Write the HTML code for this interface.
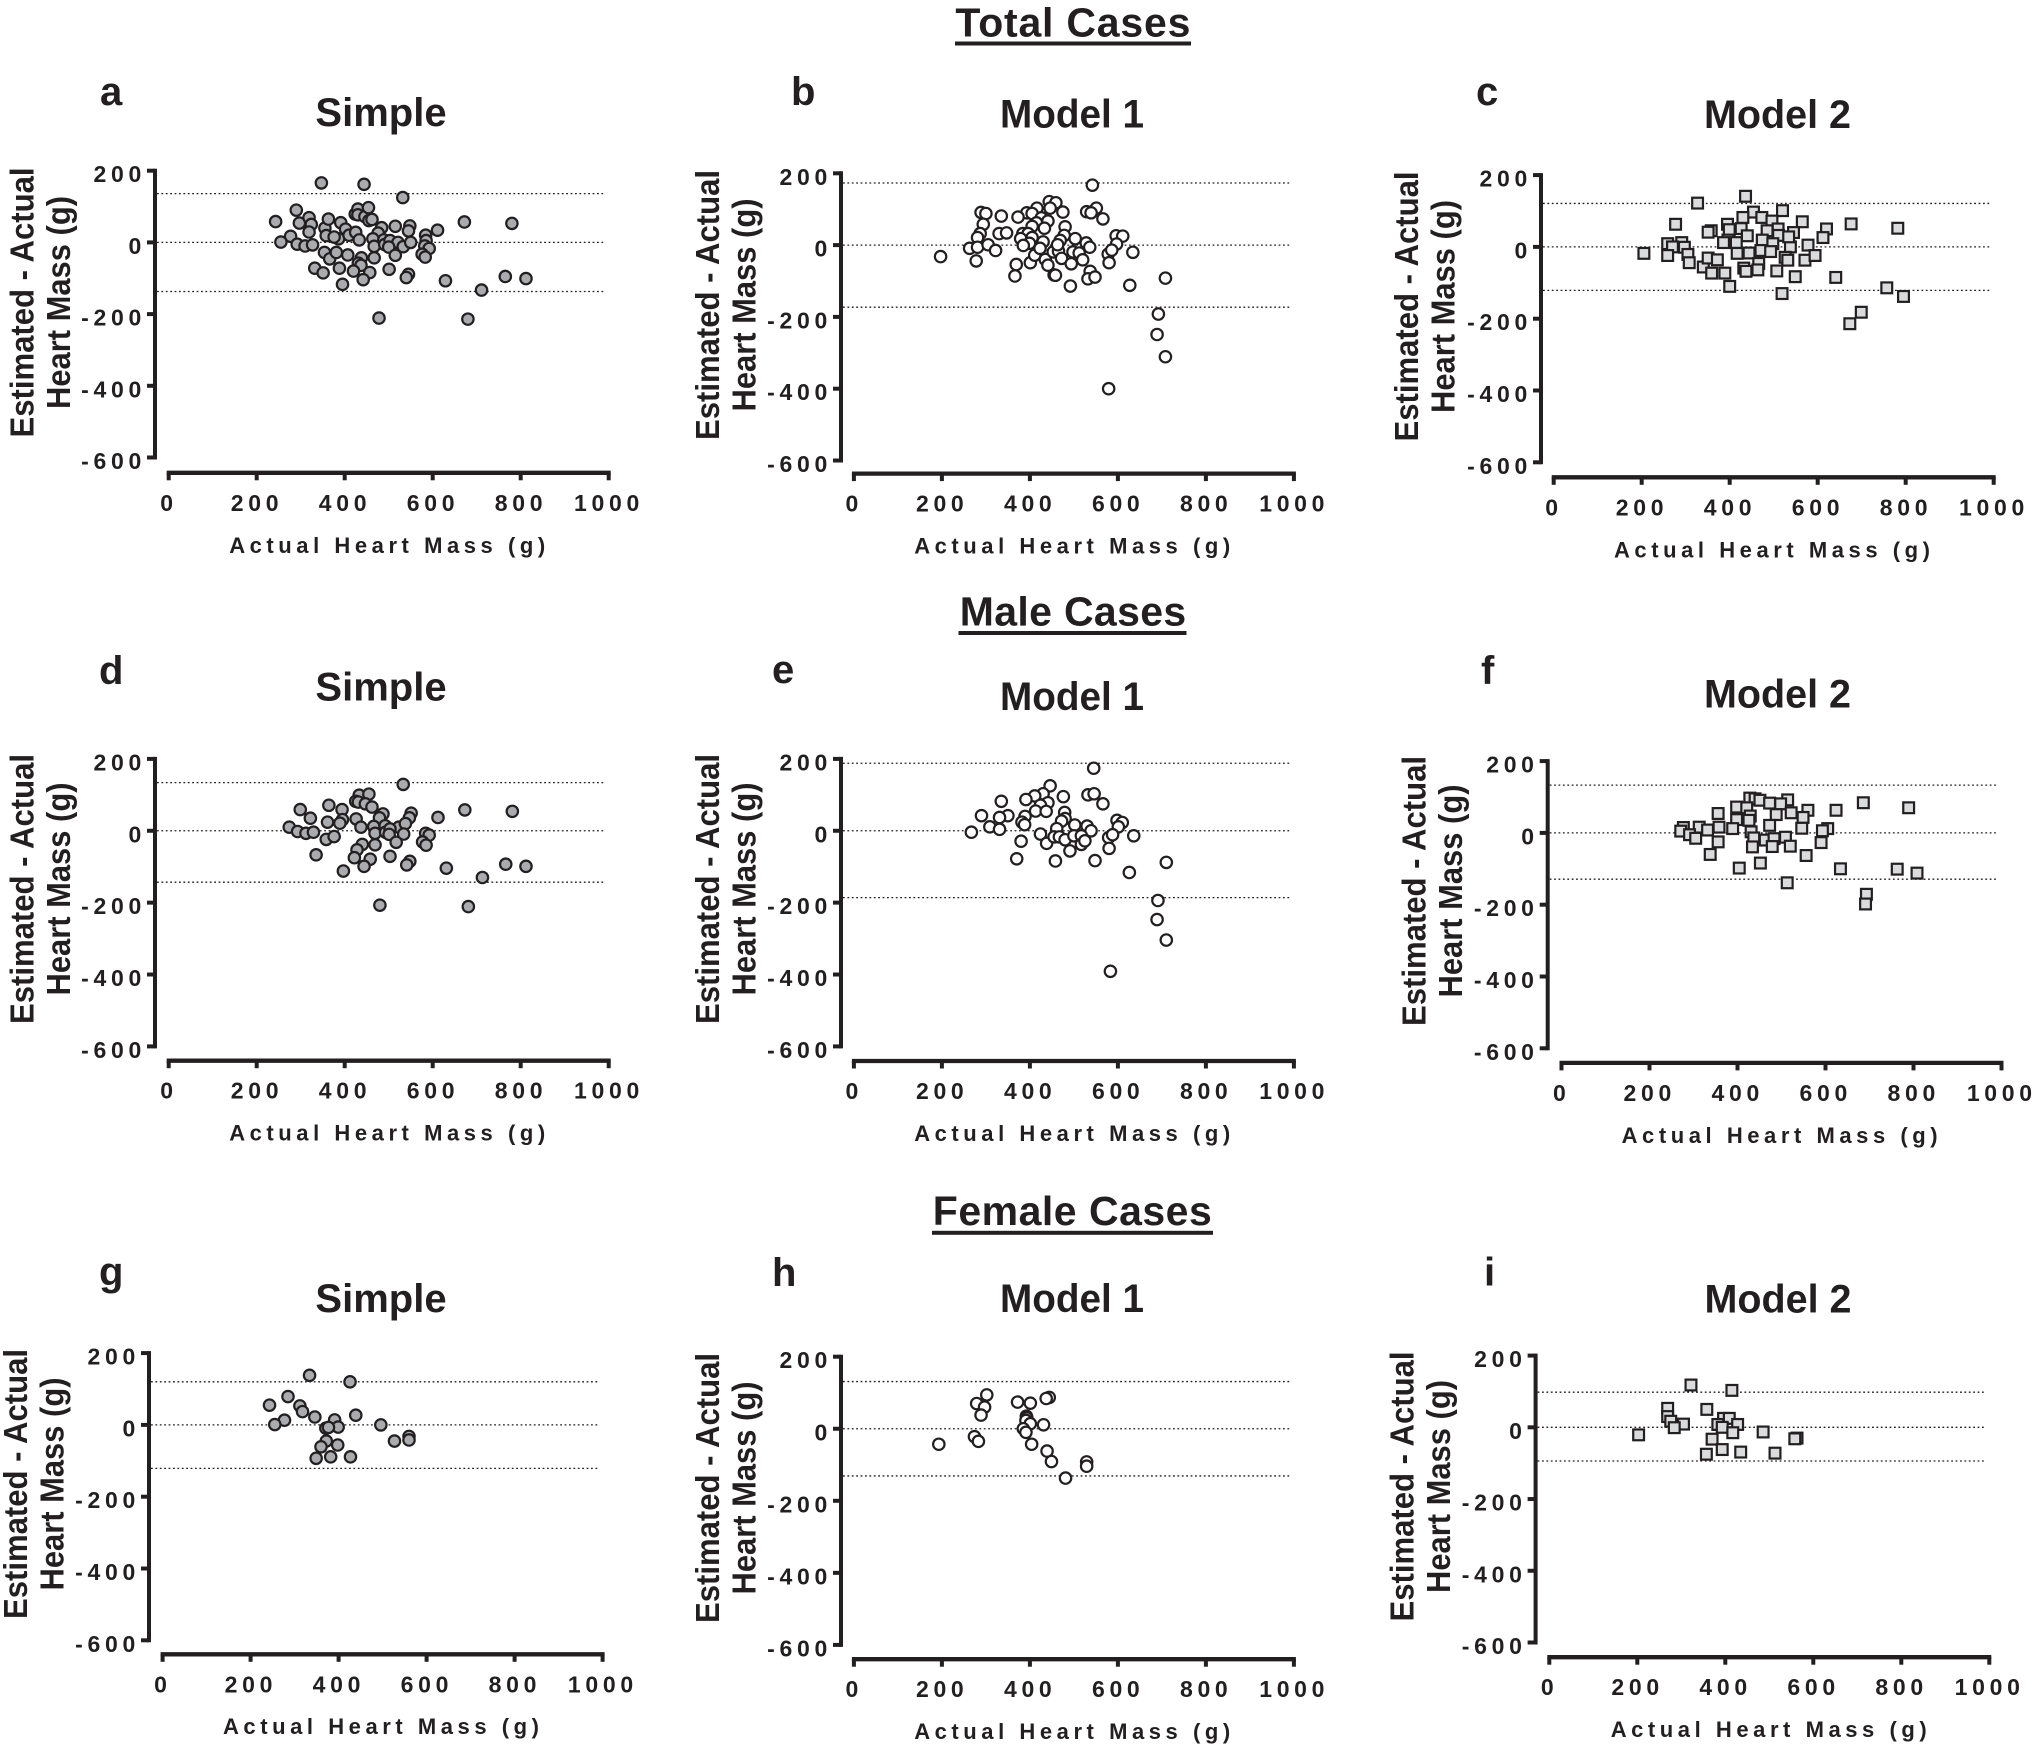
<!DOCTYPE html>
<html lang="en">
<head>
<meta charset="utf-8">
<title>Estimated minus actual heart mass: Total, Male and Female Cases</title>
<style>
html,body{margin:0;padding:0;background:#fff;width:2032px;height:1745px;overflow:hidden}
svg{display:block}
text{font-family:"Liberation Sans",Arial,sans-serif;font-weight:700;fill:#231f20}
.section{font-size:41px}
.letter{font-size:40px}
.ptitle{font-size:40px;text-anchor:middle}
.ytitle{font-size:33px;text-anchor:middle}
.xtitle{font-size:22px;text-anchor:middle}
.tick{font-size:23px;letter-spacing:4.7px}
</style>
</head>
<body>
<svg id="figure" xmlns="http://www.w3.org/2000/svg" width="2032" height="1745" viewBox="0 0 2032 1745">
<rect width="2032" height="1745" fill="#fff"/>

<text class="section" x="955.4" y="36.4" textLength="235">Total Cases</text>
<rect x="955" y="41.5" width="236" height="4" fill="#231f20"/>
<text class="section" x="959.7" y="625.7" textLength="226.5">Male Cases</text>
<rect x="958.5" y="631" width="228" height="4" fill="#231f20"/>
<text class="section" x="932.8" y="1225" textLength="279">Female Cases</text>
<rect x="932" y="1230.8" width="281" height="4" fill="#231f20"/>

<text class="letter" x="100" y="105">a</text>
<text class="letter" x="791" y="105">b</text>
<text class="letter" x="1476" y="105">c</text>
<text class="letter" x="99" y="684">d</text>
<text class="letter" x="772" y="683">e</text>
<text class="letter" x="1481" y="684">f</text>
<text class="letter" x="99" y="1285">g</text>
<text class="letter" x="772" y="1286">h</text>
<text class="letter" x="1484" y="1285.5">i</text>

<text class="ptitle" x="381" y="126">Simple</text>
<text class="ptitle" x="1072" y="127.5" textLength="144" lengthAdjust="spacingAndGlyphs">Model 1</text>
<text class="ptitle" x="1777.5" y="128" textLength="147" lengthAdjust="spacingAndGlyphs">Model 2</text>
<text class="ptitle" x="381" y="700.5">Simple</text>
<text class="ptitle" x="1072" y="710" textLength="144" lengthAdjust="spacingAndGlyphs">Model 1</text>
<text class="ptitle" x="1777.5" y="707.5" textLength="147" lengthAdjust="spacingAndGlyphs">Model 2</text>
<text class="ptitle" x="381" y="1312">Simple</text>
<text class="ptitle" x="1072" y="1312" textLength="144" lengthAdjust="spacingAndGlyphs">Model 1</text>
<text class="ptitle" x="1778" y="1312.5" textLength="147" lengthAdjust="spacingAndGlyphs">Model 2</text>

<text class="ytitle" transform="rotate(-90 33.5 302.5)" x="33.5" y="302.5" textLength="270" lengthAdjust="spacingAndGlyphs">Estimated - Actual</text>
<text class="ytitle" transform="rotate(-90 70 302.5)" x="70" y="302.5" textLength="213" lengthAdjust="spacingAndGlyphs">Heart Mass (g)</text>
<text class="ytitle" transform="rotate(-90 719 305)" x="719" y="305" textLength="270" lengthAdjust="spacingAndGlyphs">Estimated - Actual</text>
<text class="ytitle" transform="rotate(-90 755.5 305)" x="755.5" y="305" textLength="213" lengthAdjust="spacingAndGlyphs">Heart Mass (g)</text>
<text class="ytitle" transform="rotate(-90 1418 306.5)" x="1418" y="306.5" textLength="270" lengthAdjust="spacingAndGlyphs">Estimated - Actual</text>
<text class="ytitle" transform="rotate(-90 1454.5 306.5)" x="1454.5" y="306.5" textLength="213" lengthAdjust="spacingAndGlyphs">Heart Mass (g)</text>
<text class="ytitle" transform="rotate(-90 33.5 889)" x="33.5" y="889" textLength="270" lengthAdjust="spacingAndGlyphs">Estimated - Actual</text>
<text class="ytitle" transform="rotate(-90 70 889)" x="70" y="889" textLength="213" lengthAdjust="spacingAndGlyphs">Heart Mass (g)</text>
<text class="ytitle" transform="rotate(-90 719 889)" x="719" y="889" textLength="270" lengthAdjust="spacingAndGlyphs">Estimated - Actual</text>
<text class="ytitle" transform="rotate(-90 755.5 889)" x="755.5" y="889" textLength="213" lengthAdjust="spacingAndGlyphs">Heart Mass (g)</text>
<text class="ytitle" transform="rotate(-90 1425.5 891)" x="1425.5" y="891" textLength="270" lengthAdjust="spacingAndGlyphs">Estimated - Actual</text>
<text class="ytitle" transform="rotate(-90 1462 891)" x="1462" y="891" textLength="213" lengthAdjust="spacingAndGlyphs">Heart Mass (g)</text>
<text class="ytitle" transform="rotate(-90 27 1484)" x="27" y="1484" textLength="270" lengthAdjust="spacingAndGlyphs">Estimated - Actual</text>
<text class="ytitle" transform="rotate(-90 63.5 1484)" x="63.5" y="1484" textLength="213" lengthAdjust="spacingAndGlyphs">Heart Mass (g)</text>
<text class="ytitle" transform="rotate(-90 719 1488)" x="719" y="1488" textLength="270" lengthAdjust="spacingAndGlyphs">Estimated - Actual</text>
<text class="ytitle" transform="rotate(-90 755.5 1488)" x="755.5" y="1488" textLength="213" lengthAdjust="spacingAndGlyphs">Heart Mass (g)</text>
<text class="ytitle" transform="rotate(-90 1413.5 1486.5)" x="1413.5" y="1486.5" textLength="270" lengthAdjust="spacingAndGlyphs">Estimated - Actual</text>
<text class="ytitle" transform="rotate(-90 1450 1486.5)" x="1450" y="1486.5" textLength="213" lengthAdjust="spacingAndGlyphs">Heart Mass (g)</text>

<text class="xtitle" x="387.2" y="552.8" textLength="316">Actual Heart Mass (g)</text>
<text class="xtitle" x="1072.2" y="553.6" textLength="316">Actual Heart Mass (g)</text>
<text class="xtitle" x="1772" y="557.3" textLength="316">Actual Heart Mass (g)</text>
<text class="xtitle" x="387.2" y="1140.7" textLength="316">Actual Heart Mass (g)</text>
<text class="xtitle" x="1072.2" y="1141" textLength="316">Actual Heart Mass (g)</text>
<text class="xtitle" x="1779.6" y="1142.9" textLength="316">Actual Heart Mass (g)</text>
<text class="xtitle" x="381" y="1734" textLength="316">Actual Heart Mass (g)</text>
<text class="xtitle" x="1072.2" y="1739" textLength="316">Actual Heart Mass (g)</text>
<text class="xtitle" x="1768.7" y="1736.8" textLength="316">Actual Heart Mass (g)</text>
</svg>

<script>
const xTickValues = [0, 200, 400, 600, 800, 1000];
const yTickValues = [200, 0, -200, -400, -600];

const aActual = [347,444,532,243,290,297,319,324,319,277,255,292,310,327,355,363,358,391,402,386,376,410,425,433,424,430,430,446,454,455,462,484,476,464,489,467,491,515,503,521,533,500,515,548,545,550,584,585,582,592,576,583,611,672,780,629,765,812,711,680,478,354,366,381,407,438,467,431,437,388,332,351,420,457,442,501,545,540,395];
const aDiff = [166,162,125,58,90,54,69,50,29,17,1,-5,-10,-7,40,65,19,55,37,10,15,20,28,7,79,93,77,72,97,61,64,41,26,10,7,-11,-6,45,5,0,-12,-13,-36,46,32,0,20,5,-10,-17,-33,-41,34,57,53,-107,-95,-101,-133,-214,-211,-28,-46,-28,-35,-43,-43,-58,-64,-72,-72,-85,-80,-84,-104,-75,-89,-98,-117];
const aLimits = [136, 0, -137];

const bActual = [542,551,529,539,566,444,459,416,446,475,393,405,289,300,335,373,426,441,415,294,433,480,405,287,281,330,347,384,396,379,405,478,503,469,430,399,385,528,596,611,597,263,281,305,322,197,278,369,366,401,411,423,435,441,455,458,453,465,463,472,494,498,512,520,536,537,532,548,492,578,586,580,634,627,708,692,689,708,579];
const bDiff = [167,103,93,90,73,121,118,103,103,92,90,88,91,88,81,78,76,67,62,58,47,51,52,32,21,32,34,32,32,18,21,27,18,13,9,5,-1,6,26,25,3,-9,-6,1,-15,-32,-44,-54,-86,-49,-28,-9,-40,-56,-83,-84,-19,-17,1,-37,-52,-19,-22,-41,-6,-73,-94,-89,-114,-25,-14,-49,-20,-112,-92,-192,-249,-311,-400];
const bLimits = [173, 0, -173];

const cActual = [436,327,520,454,430,473,496,395,277,565,676,782,620,510,426,399,358,351,485,545,511,440,612,474,396,386,415,498,291,259,578,538,270,297,205,259,305,308,417,444,471,493,526,532,571,594,340,351,372,359,389,432,437,466,464,507,549,641,400,519,757,795,699,673,534];
const cDiff = [141,122,101,97,82,82,72,63,63,70,64,52,50,50,51,48,45,41,45,40,32,31,26,19,19,12,12,9,12,9,5,0,0,-1,-18,-24,-21,-44,-18,-17,-10,-13,-29,-37,-37,-24,-56,-31,-36,-73,-73,-59,-68,-46,-64,-67,-83,-85,-110,-130,-114,-138,-182,-214,28];
const cLimits = [121, 0, -121];

const dActual = [533,433,455,425,431,447,462,299,364,394,322,487,551,547,479,426,395,361,389,437,466,492,523,538,274,293,312,329,358,376,469,493,503,501,534,612,584,592,577,585,517,469,440,428,422,458,335,503,548,541,444,397,631,673,781,766,812,713,681,480];
const dDiff = [129,99,102,82,80,75,66,59,71,59,35,47,49,36,36,33,31,24,21,10,12,14,10,20,10,-2,-7,-4,-24,-16,-7,-4,5,-10,-9,37,-7,-12,-31,-40,-32,-39,-38,-53,-75,-79,-67,-71,-85,-95,-99,-112,-104,58,54,-93,-99,-130,-211,-207];
const dLimits = [134, 0, -143];

const eActual = [545,446,430,411,532,546,476,391,335,566,441,424,413,437,290,350,331,389,479,480,472,382,388,309,331,267,502,530,539,461,598,610,601,424,438,455,467,480,500,517,517,525,491,380,370,458,548,579,588,580,636,626,710,691,689,710,583];
const eDiff = [174,125,103,97,100,103,95,87,82,75,78,71,55,54,42,42,37,40,51,34,27,24,17,11,4,-4,16,13,0,6,29,23,11,-9,-35,-17,-17,-25,-14,-14,-38,-28,-56,-29,-78,-84,-83,-19,-11,-49,-14,-116,-88,-194,-247,-304,-391];
const eLimits = [188, 0, -186];

const fActual = [428,440,451,514,473,498,398,421,686,789,624,560,356,488,522,429,549,398,426,473,358,313,277,332,389,546,605,593,271,291,305,431,356,437,463,483,509,590,434,479,520,338,556,452,404,634,763,808,513,693,691];
const fDiff = [97,95,91,92,83,81,72,70,84,70,63,63,54,51,56,47,43,37,35,21,16,16,15,8,12,13,12,6,5,-5,-15,3,-25,-14,-20,-16,-12,-27,-39,-38,-37,-60,-63,-84,-98,-100,-101,-112,-139,-171,-198];
const fLimits = [133, 0, -129];

const gActual = [334,426,285,243,312,318,346,277,255,439,391,496,399,371,377,560,560,527,372,360,398,349,382,427];
const gDiff = [138,120,79,55,53,37,22,13,1,27,14,0,-6,-9,-7,-32,-42,-45,-45,-61,-56,-93,-89,-89];
const gLimits = [120, 0, -121];

const hActual = [302,444,437,372,401,279,297,289,392,393,391,401,431,385,391,274,283,193,404,439,449,529,529,481];
const hDiff = [94,87,84,74,71,70,60,38,35,30,23,14,11,0,-10,-22,-35,-43,-43,-62,-91,-92,-104,-137];
const hLimits = [131, 0, -131];

const iActual = [322,415,269,358,269,276,396,409,305,383,428,284,393,417,203,486,370,563,558,393,435,513,357];
const iDiff = [118,103,53,50,30,17,25,25,9,8,8,-1,0,-15,-21,-13,-33,-30,-32,-62,-69,-72,-75];
const iLimits = [98, 0, -94];

const SVG_NS = 'http://www.w3.org/2000/svg';
const INK = '#231f20';
const figure = document.getElementById('figure');

const panels = [
  {id:'a', xs:aActual, ys:aDiff, limits:aLimits, marker:'circle', fill:'#a9abae', ax:155, x0:168.7, x1:608.7, yTop:170.7, yBot:457.5, xa:472.8},
  {id:'b', xs:bActual, ys:bDiff, limits:bLimits, marker:'circle', fill:'#ffffff', ax:841, x0:853.9, x1:1293.9, yTop:173.3, yBot:460.5, xa:473.6},
  {id:'c', xs:cActual, ys:cDiff, limits:cLimits, marker:'square', fill:'#d9dbdc', ax:1541, x0:1553.7, x1:1993.7, yTop:175.1, yBot:462.3, xa:477.3},
  {id:'d', xs:dActual, ys:dDiff, limits:dLimits, marker:'circle', fill:'#a9abae', ax:155, x0:168.7, x1:608.7, yTop:758.9, yBot:1046.4, xa:1060.7},
  {id:'e', xs:eActual, ys:eDiff, limits:eLimits, marker:'circle', fill:'#ffffff', ax:841, x0:853.9, x1:1293.9, yTop:758.9, yBot:1046.4, xa:1061},
  {id:'f', xs:fActual, ys:fDiff, limits:fLimits, marker:'square', fill:'#d9dbdc', ax:1547.7, x0:1561.5, x1:2001.5, yTop:761.1, yBot:1048.3, xa:1062.9},
  {id:'g', xs:gActual, ys:gDiff, limits:gLimits, marker:'circle', fill:'#a9abae', ax:149, x0:162.6, x1:602.6, yTop:1353.1, yBot:1640.3, xa:1654.3},
  {id:'h', xs:hActual, ys:hDiff, limits:hLimits, marker:'circle', fill:'#ffffff', ax:841, x0:853.9, x1:1293.9, yTop:1356.7, yBot:1644.9, xa:1659.2},
  {id:'i', xs:iActual, ys:iDiff, limits:iLimits, marker:'square', fill:'#d9dbdc', ax:1535.6, x0:1549.3, x1:1989.3, yTop:1355.6, yBot:1642.5, xa:1657.2}
];

function makeLine(parent, x1, y1, x2, y2, width) {
  const el = document.createElementNS(SVG_NS, 'line');
  el.setAttribute('x1', x1);
  el.setAttribute('y1', y1);
  el.setAttribute('x2', x2);
  el.setAttribute('y2', y2);
  el.setAttribute('stroke', INK);
  el.setAttribute('stroke-width', width);
  parent.appendChild(el);
  return el;
}

function makeTick(parent, x, y, anchor, label) {
  const el = document.createElementNS(SVG_NS, 'text');
  el.setAttribute('class', 'tick');
  el.setAttribute('x', x);
  el.setAttribute('y', y);
  el.setAttribute('text-anchor', anchor);
  el.textContent = label;
  parent.appendChild(el);
  return el;
}

panels.forEach(function (p) {
  const xScale = function (v) { return p.x0 + (v / 1000) * (p.x1 - p.x0); };
  const yScale = function (v) { return p.yTop + ((200 - v) / 800) * (p.yBot - p.yTop); };

  const group = document.createElementNS(SVG_NS, 'g');
  
  
  figure.appendChild(group);

  p.limits.forEach(function (v) {
    const limit = makeLine(group, p.ax + 2, yScale(v), p.x1 - 4, yScale(v), 1.3);
    limit.setAttribute('stroke-dasharray', '1.8 2.6');
    
    
  });

  const yAxis = makeLine(group, p.ax, p.yTop - 2, p.ax, p.yBot + 2, 4);
  
  

  yTickValues.forEach(function (v) {
    const tick = makeLine(group, p.ax - 8, yScale(v), p.ax, yScale(v), 4);
    
    
    const label = makeTick(group, p.ax - 9, yScale(v) + 11.5, 'end', String(v));
    
    
  });

  const xAxis = makeLine(group, p.x0 - 2, p.xa, p.x1 + 2, p.xa, 4.3);
  
  

  xTickValues.forEach(function (v) {
    const tick = makeLine(group, xScale(v), p.xa, xScale(v), p.xa + 7.5, 4);
    
    
    const label = makeTick(group, xScale(v) + 0.3, p.xa + 38, 'middle', String(v));
    
    
  });

  p.xs.forEach(function (xv, i) {
    const cx = xScale(xv);
    const cy = yScale(p.ys[i]);
    let mark;
    if (p.marker === 'circle') {
      mark = document.createElementNS(SVG_NS, 'circle');
      mark.setAttribute('cx', cx);
      mark.setAttribute('cy', cy);
      mark.setAttribute('r', 5.7);
    } else {
      mark = document.createElementNS(SVG_NS, 'rect');
      mark.setAttribute('x', cx - 5.4);
      mark.setAttribute('y', cy - 5.4);
      mark.setAttribute('width', 10.8);
      mark.setAttribute('height', 10.8);
    }
    mark.setAttribute('fill', p.fill);
    mark.setAttribute('stroke', INK);
    mark.setAttribute('stroke-width', 2.2);
    
    
    group.appendChild(mark);
  });
});
</script>
</body>
</html>
